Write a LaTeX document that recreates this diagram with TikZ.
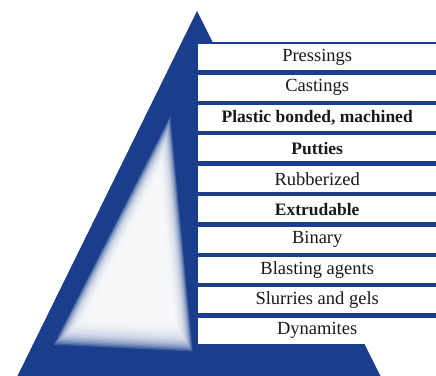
\documentclass[tikz,border=0pt]{standalone}
\usepackage{fontspec}
\setmainfont{Liberation Serif}
\usepackage{tikz}
\usetikzlibrary{positioning}
\definecolor{pyrblue}{RGB}{26,62,140}

\begin{document}
\begin{tikzpicture}[x=1pt, y=-1pt,
  layer/.style={fill=white, minimum width=238pt, minimum height=26pt, inner sep=0pt,
    text=black!90, font=\fontsize{18.5}{20}\selectfont},
  strong/.style={font=\fontsize{17.5}{20}\selectfont\bfseries}]
  \useasboundingbox (0,0) rectangle (436,375);
  \fill[pyrblue] (197,11) -- (381,377) -- (17,377) -- cycle;
  \fill[pyrblue] (198,42) rectangle (436,341);
  % washed-out patch
  \foreach \s in {1.12,1.10,...,0.70}
    \fill[white, opacity=.16, scale around={\s:(140,272)}] (167,133) -- (63,337) -- (187,343) -- cycle;
  \node[layer, anchor=north west] (press) at (198,44) {Pressings};
  \node[layer, below=4pt of press] (cast) {Castings};
  \node[layer, strong, below=4pt of cast] (plastic) {Plastic bonded, machined};
  \node[layer, strong, below=4pt of plastic] (putty) {Putties};
  \node[layer, below=4pt of putty] (rubber) {Rubberized};
  \node[layer, strong, below=4pt of rubber] (extrude) {Extrudable};
  \node[layer, below=4pt of extrude] (binary) {Binary};
  \node[layer, below=4pt of binary] (blast) {Blasting agents};
  \node[layer, below=4pt of blast] (slurry) {Slurries and gels};
  \node[layer, below=4pt of slurry] (dyn) {Dynamites};
\end{tikzpicture}
\end{document}
